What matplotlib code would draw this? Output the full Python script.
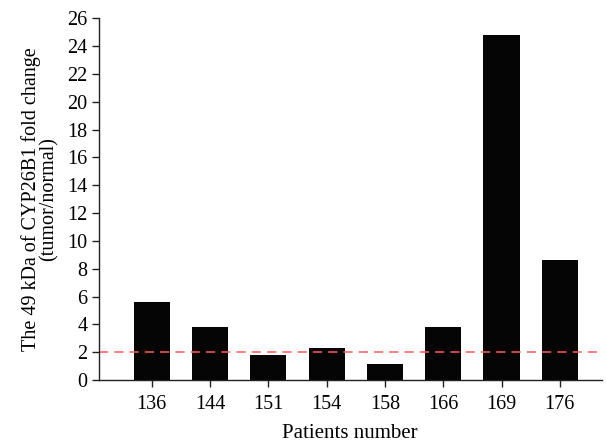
import matplotlib
matplotlib.use("Agg")
import matplotlib.pyplot as plt
import numpy as np

patients = ["136", "144", "151", "154", "158", "166", "169", "176"]
fold_change = [5.6, 3.8, 1.8, 2.3, 1.15, 3.8, 24.8, 8.6]
threshold = 2.0

plt.rcParams['font.family'] = ['Liberation Serif', 'DejaVu Serif']

fig = plt.figure(figsize=(6.06, 4.43), dpi=100)
ax = fig.add_axes([0.163, 0.142, 0.83, 0.817])

x = np.arange(len(patients))
ax.bar(x, fold_change, width=0.62, color='#050505')
ax.axhline(threshold, color='#ff5a5a', linestyle=(0, (6, 4)), linewidth=1.1)

ax.set_xlim(-0.91, 7.72)
ax.set_ylim(0, 26)
ax.set_yticks(np.arange(0, 27, 2))
ax.set_xticks(x)
ax.set_xticklabels(patients)

for loc in ['top', 'right']:
    ax.spines[loc].set_visible(False)
for loc in ['left', 'bottom']:
    ax.spines[loc].set_linewidth(1.0)
    ax.spines[loc].set_color('#222222')

ax.tick_params(axis='both', labelsize=14.5, direction='out', length=5, width=1.0, color='#222222')
ax.tick_params(axis='x', pad=6)
ax.tick_params(axis='y', pad=3)

ax.set_xlabel("Patients number", fontsize=15, labelpad=7)
ax.set_ylabel("The 49 kDa of CYP26B1 fold change\n(tumor/normal)", fontsize=14.5, linespacing=0.9, labelpad=6)

fig.savefig("out.png", dpi=100)
